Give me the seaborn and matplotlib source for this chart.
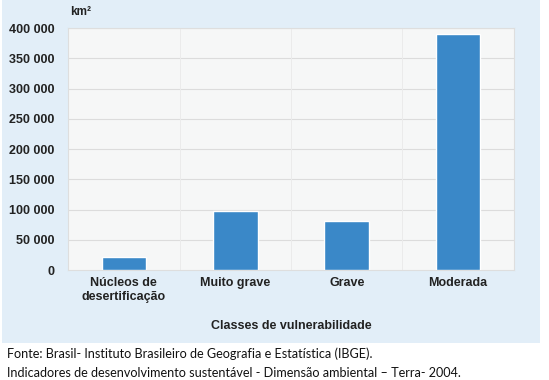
import matplotlib
matplotlib.use("Agg")
import matplotlib.pyplot as plt
import seaborn as sns
import pandas as pd
from matplotlib.patches import Rectangle
from matplotlib.ticker import FuncFormatter

# data
classes = ["Núcleos de\ndesertificação", "Muito grave", "Grave", "Moderada"]
area_km2 = [22000, 98000, 82000, 391000]
y_ticks = [0, 50000, 100000, 150000, 200000, 250000, 300000, 350000, 400000]

df = pd.DataFrame({"classe": classes, "area": area_km2})

sns.set_style("white")
plt.rcParams["font.family"] = ["Liberation Sans", "DejaVu Sans"]

fig = plt.figure(figsize=(5.49, 3.80), dpi=100)
fig.patch.set_facecolor("white")

# light blue panel behind the chart
fig.patches.append(Rectangle((0.004, 0.097), 0.98, 0.903, transform=fig.transFigure,
                             facecolor="#e2eef8", edgecolor="none", zorder=-10))

ax = fig.add_axes([0.124, 0.289, 0.812, 0.637])
ax.set_zorder(1)
ax.set_facecolor("#f6f7f7")

sns.barplot(data=df, x="classe", y="area", color="#3a88c8", width=0.4,
            saturation=1, ax=ax, zorder=3)

ax.set_xlim(-0.5, 3.5)
ax.set_ylim(0, 400000)
ax.set_yticks(y_ticks)
ax.yaxis.set_major_formatter(FuncFormatter(lambda v, p: f"{int(v):,}".replace(",", " ")))

# grid lines
for v in y_ticks[1:]:
    ax.axhline(v, color="#dcdcdc", lw=0.8, zorder=1)
for b in [0.5, 1.5, 2.5]:
    ax.axvline(b, color="#ebebeb", lw=0.7, zorder=1)

for s in ax.spines.values():
    s.set_color("#dedede")
    s.set_linewidth(0.8)

ax.tick_params(axis="y", length=0, pad=10, labelsize=9, labelcolor="#222222")
ax.tick_params(axis="x", length=0, pad=5, labelsize=9, labelcolor="#222222")
for lab in ax.get_xticklabels() + ax.get_yticklabels():
    lab.set_fontweight("bold")
    lab.set_linespacing(1.25)

ax.set_ylabel("")
ax.set_xlabel("Classes de vulnerabilidade", fontsize=9, fontweight="bold",
              color="#222222", labelpad=12)

ax.text(0.005, 1.04, "km²", transform=ax.transAxes, fontsize=8.5, fontweight="bold",
        color="#222222", ha="left", va="bottom")

fig.text(0.012, 0.068, "Fonte: Brasil- Instituto Brasileiro de Geografia e Estatística (IBGE).",
         fontsize=9.1, family="Lato", color="#111111", va="center")
fig.text(0.012, 0.018, "Indicadores de desenvolvimento sustentável - Dimensão ambiental – Terra- 2004.",
         fontsize=9.1, family="Lato", color="#111111", va="center")

fig.savefig("out.png", dpi=100)
